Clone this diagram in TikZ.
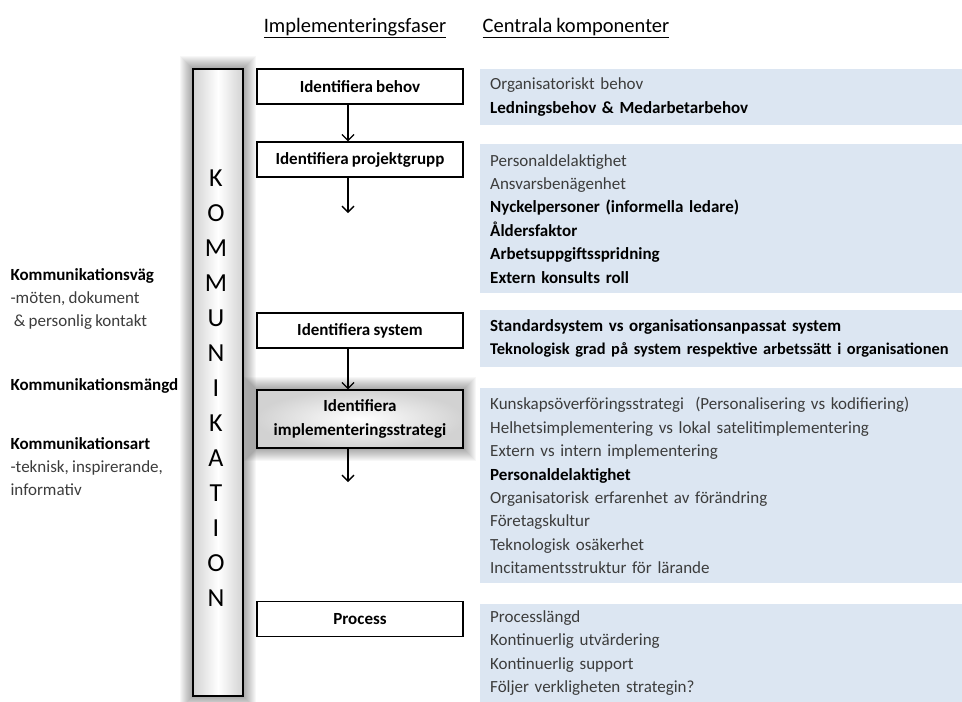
\documentclass[tikz,border=0pt]{standalone}
\usepackage{fontspec}
\setmainfont{Carlito}[WordSpace=0.85]
\usetikzlibrary{arrows.meta, backgrounds, calc}
\definecolor{panelblue}{RGB}{220,230,242}
\definecolor{textgray}{RGB}{60,60,60}
\newcommand{\bk}[1]{\textcolor{black}{\bfseries #1}}

\begin{document}
\begin{tikzpicture}[x=1pt, y=-1pt,
  phase/.style={draw, line width=1.2pt, minimum width=206, minimum height=35, fill=white,
    align=center, font=\bfseries\fontsize{17}{24}\selectfont},
  panel/.style={anchor=north west, fill=panelblue, minimum width=482, text width=470,
    inner xsep=10, align=left, text=textgray, font=\fontsize{17}{23.4}\selectfont},
  side/.style={anchor=west, align=left, text=textgray, font=\fontsize{17}{23}\selectfont},
  letter/.style={font=\fontsize{26}{26}\selectfont},
  head/.style={font=\fontsize{20.5}{22}\selectfont},
  flow/.style={-{Straight Barb[length=6pt, width=12pt]}, line width=1.3pt}]
\useasboundingbox (0,0) rectangle (962,702);

% headers
\node[head] (hfas) at (355,28) {\underline{Implementeringsfaser}};
\node[head] (hkomp) at (576,28) {\underline{Centrala komponenter}};

% communication column
\node (kom) [draw, line width=1.2pt, minimum width=50, minimum height=627,
  left color=gray!35, right color=gray!35, middle color=white] at (218,382.5) {};
\foreach \l [count=\i from 0] in {K,O,M,M,U,N,I,K,A,T,I,O,N}
  \node[letter] (k\i) at (216,178+35*\i) {\l};

% phases
\node (behov) [phase] at (360,86.5) {Identifiera behov};
\node (projekt) [phase] at (360,159.5) {Identifiera projektgrupp};
\node (system) [phase] at (360,330.5) {Identifiera system};
\node (strategi) [phase, minimum height=58, inner color=white, outer color=gray!35]
  at (360,419) {Identifiera\\implementeringsstrategi};
\node (process) [phase] at (360,619) {Process};

\coordinate (ax) at (348,0);
\coordinate (e2) at (348,213);
\coordinate (e4) at (348,482);
\draw[flow] (behov.south -| ax) -- (projekt.north -| ax);
\draw[flow] (projekt.south -| ax) -- (e2);
\draw[flow] (system.south -| ax) -- (strategi.north -| ax);
\draw[flow] (strategi.south -| ax) -- (e4);

% glow
\begin{scope}[on background layer]
\foreach \g in {1,...,12} {
  \fill[black, opacity=0.03] ($(kom.north west)+(-\g,-\g)$) rectangle ($(kom.south east)+(\g,\g)$);
  \fill[black, opacity=0.03] ($(strategi.north west)+(-\g,-\g)$) rectangle ($(strategi.south east)+(\g,\g)$);
}
\end{scope}

% components
\node (c1) [panel, minimum height=56] at (480,69)
  {Organisatoriskt behov\\\bk{Ledningsbehov \& Medarbetarbehov}};
\node (c2) [panel, minimum height=149] at (480,144)
  {Personaldelaktighet\\Ansvarsbenägenhet\\\bk{Nyckelpersoner (informella ledare)}\\
   \bk{Åldersfaktor}\\\bk{Arbetsuppgiftsspridning}\\\bk{Extern konsults roll}};
\node (c3) [panel, minimum height=57] at (480,310)
  {\bk{Standardsystem vs organisationsanpassat system}\\
   \mbox{\fontsize{16.4}{23.4}\selectfont\bk{Teknologisk grad på system respektive arbetssätt i organisationen}}};
\node (c4) [panel, minimum height=195] at (480,388)
  {Kunskapsöverföringsstrategi\ \ (Personalisering vs kodifiering)\\
   Helhetsimplementering vs lokal satelitimplementering\\Extern vs intern implementering\\
   \bk{Personaldelaktighet}\\Organisatorisk erfarenhet av förändring\\Företagskultur\\
   Teknologisk osäkerhet\\Incitamentsstruktur för lärande};
\node (c5) [panel, minimum height=98] at (480,604)
  {Processlängd\\Kontinuerlig utvärdering\\Kontinuerlig support\\Följer verkligheten strategin?};

% communication aspects
\node (vag) [side] at (7,299)
  {\bk{Kommunikationsväg}\\-möten, dokument\\\ \& personlig kontakt};
\node (mangd) [side] at (7,386) {\bk{Kommunikationsmängd}};
\node (art) [side] at (7,467)
  {\bk{Kommunikationsart}\\-teknisk, inspirerande,\\informativ};
\end{tikzpicture}
\end{document}
